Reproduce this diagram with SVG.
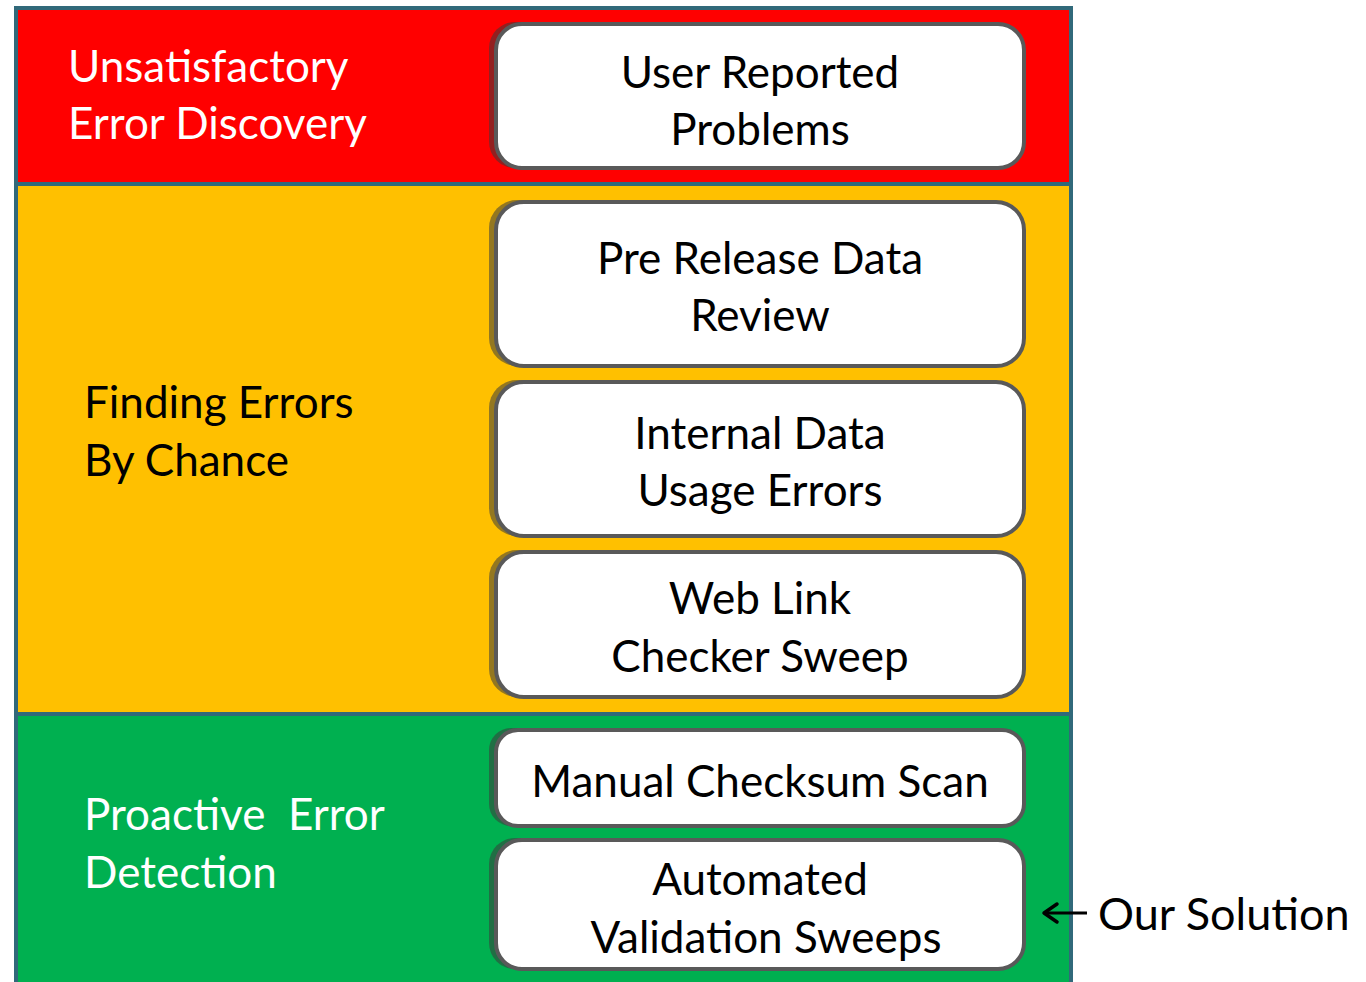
<svg xmlns="http://www.w3.org/2000/svg" width="1366" height="982" viewBox="0 0 1366 982">
<style>
.band{stroke:#31697A;stroke-width:4}
.shadow{fill:#3a3a3a;opacity:0.55}
.box{fill:#ffffff;stroke:#595959;stroke-width:4}
.lbl{font-family:Lato,"Noto Sans",sans-serif;font-size:44px;fill:#ffffff}
.bt{font-family:Lato,"Noto Sans",sans-serif;font-size:44px;fill:#000000;text-anchor:middle}
.note{font-family:Lato,"Noto Sans",sans-serif;font-size:45px;fill:#000000}
</style>
<defs>
<marker id="arr" markerWidth="22" markerHeight="24" refX="17" refY="12" orient="auto" markerUnits="userSpaceOnUse">
<path d="M4,3 L17,12 L4,21" fill="none" stroke="#000" stroke-width="3.5" stroke-linecap="round" stroke-linejoin="round"/>
</marker>
</defs>
<rect width="1366" height="982" fill="#ffffff"/>
<g id="band-red"><rect class="band" x="16" y="8" width="1055" height="176" fill="#FF0000"/>
<text class="lbl" x="68" y="82">Unsatisfactory</text><text class="lbl" x="68" y="139">Error Discovery</text></g>
<g id="band-yellow"><rect class="band" x="16" y="184" width="1055" height="530" fill="#FFC000"/>
<text class="lbl" x="84" y="418" style="fill:#000">Finding Errors</text><text class="lbl" x="84" y="476" style="fill:#000">By Chance</text></g>
<g id="band-green"><rect class="band" x="16" y="714" width="1055" height="272" fill="#00B050"/>
<text class="lbl" x="84" y="830" xml:space="preserve">Proactive  Error</text><text class="lbl" x="84" y="888">Detection</text></g>

<g id="n1"><rect class="shadow" x="489" y="22" width="530" height="146" rx="26"/><rect class="box" x="496" y="24" width="528" height="144" rx="26"/>
<text class="bt" x="760" y="88">User Reported</text><text class="bt" x="760" y="145">Problems</text></g>
<g id="n2"><rect class="shadow" x="489" y="200" width="530" height="166" rx="28"/><rect class="box" x="496" y="202" width="528" height="164" rx="28"/>
<text class="bt" x="760" y="274">Pre Release Data</text><text class="bt" x="760" y="331">Review</text></g>
<g id="n3"><rect class="shadow" x="489" y="380" width="530" height="156" rx="28"/><rect class="box" x="496" y="382" width="528" height="154" rx="28"/>
<text class="bt" x="760" y="449">Internal Data</text><text class="bt" x="760" y="506">Usage Errors</text></g>
<g id="n4"><rect class="shadow" x="489" y="550" width="530" height="147" rx="28"/><rect class="box" x="496" y="552" width="528" height="145" rx="28"/>
<text class="bt" x="760" y="614">Web Link</text><text class="bt" x="760" y="672">Checker Sweep</text></g>
<g id="n5"><rect class="shadow" x="489" y="728" width="530" height="98" rx="22"/><rect class="box" x="496" y="730" width="528" height="96" rx="22"/>
<text class="bt" x="760" y="797">Manual Checksum Scan</text></g>
<g id="n6"><rect class="shadow" x="489" y="838" width="530" height="131" rx="26"/><rect class="box" x="496" y="840" width="528" height="129" rx="26"/>
<text class="bt" x="760" y="895">Automated</text><text class="bt" x="766" y="953">Validation Sweeps</text></g>

<g id="connectors"><line x1="1087" y1="913" x2="1044" y2="913" stroke="#000" stroke-width="3" marker-end="url(#arr)"/></g>
<g id="note"><text class="note" x="1098" y="930">Our Solution</text></g>
</svg>
